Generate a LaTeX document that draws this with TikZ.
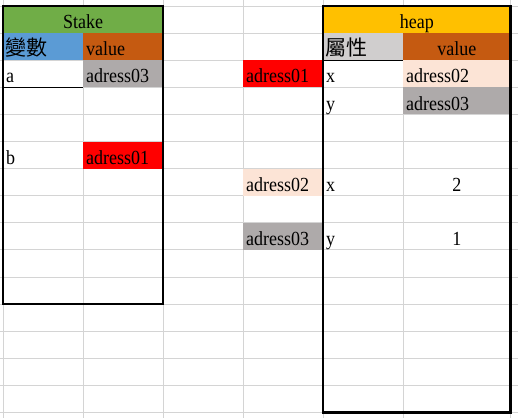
\documentclass[tikz,border=0pt]{standalone}
\usepackage{fontspec}
\setmainfont[FakeStretch=0.9]{Liberation Serif}
\newfontfamily\cjk{Noto Sans CJK TC}
\definecolor{gridgray}{HTML}{D4D4D4}
\definecolor{cgreen}{HTML}{70AD47}
\definecolor{cblue}{HTML}{5B9BD5}
\definecolor{corange}{HTML}{C55A11}
\definecolor{cgray}{HTML}{AEAAAA}
\definecolor{cred}{HTML}{FF0000}
\definecolor{cpeach}{HTML}{FCE4D6}
\definecolor{cgold}{HTML}{FFC000}
\definecolor{clgray}{HTML}{D0CECE}
\tikzset{
  gridline/.style={draw=gridgray, line width=0.9pt},
  txt/.style={anchor=base west, inner sep=0pt, font=\fontsize{20}{20}\selectfont},
  ctxt/.style={anchor=base, inner sep=0pt, font=\fontsize{20}{20}\selectfont},
  cjktxt/.style={anchor=base west, inner sep=0pt, font=\cjk\fontsize{21}{21}\selectfont},
  boxline/.style={draw=black, line width=2.2pt},
  thinline/.style={draw=black, line width=1pt}
}
\begin{document}
\begin{tikzpicture}[x=1pt,y=-1pt]
\useasboundingbox (0,0) rectangle (518,418);
\fill[white] (0,0) rectangle (518,418);
% grid
\foreach \gx in {3,83,163,243,323,403,510.5}
  \draw[gridline] (\gx,0) -- (\gx,418);
\foreach \k in {0,...,15}
  \draw[gridline] (0,6+27.1*\k) -- (518,6+27.1*\k);
% fills
\fill[cgreen] (3,6) rectangle (163,33.1);
\fill[cblue] (3,33.1) rectangle (83,60.2);
\fill[corange] (83,33.1) rectangle (163,60.2);
\fill[cgray] (83,60.2) rectangle (163,87.3);
\fill[cred] (83,141.5) rectangle (163,168.6);
\fill[cred] (243,60.2) rectangle (323,87.3);
\fill[cpeach] (243,168.6) rectangle (323,195.7);
\fill[cgray] (243,222.8) rectangle (323,249.9);
\fill[cgold] (323,6) rectangle (510.5,33.1);
\fill[clgray] (323,33.1) rectangle (403,60.2);
\fill[corange] (403,33.1) rectangle (510.5,60.2);
\fill[cpeach] (403,60.2) rectangle (510.5,87.3);
\fill[cgray] (403,87.3) rectangle (510.5,114.4);
% borders
\draw[thinline] (3,87.3) -- (83,87.3);
\draw[thinline] (323,60.2) -- (403,60.2);
\draw[boxline] (3,6) rectangle (163,304.1);
\draw[boxline] (323,6) rectangle (510.5,412.5);
% stake texts
\node[ctxt] (stake) at (83,28.5) {Stake};
\node[cjktxt] (var) at (5,55.7) {變數};
\node[txt] (sval) at (86,55.7) {value};
\node[txt] (na) at (6,82.8) {a};
\node[txt] (va) at (86,82.8) {adress03};
\node[txt] (nb) at (6,164) {b};
\node[txt] (vb) at (86,164) {adress01};
% middle
\node[txt] (m1) at (246,82.8) {adress01};
\node[txt] (m2) at (246,191.2) {adress02};
\node[txt] (m3) at (246,245.4) {adress03};
% heap
\node[ctxt] (heap) at (416.75,28.5) {heap};
\node[cjktxt] (attr) at (325,55.7) {屬性};
\node[ctxt] (hval) at (456.75,55.7) {value};
\node[txt] (hx1) at (326,82.8) {x};
\node[txt] (hv1) at (406,82.8) {adress02};
\node[txt] (hy1) at (326,110) {y};
\node[txt] (hv2) at (406,110) {adress03};
\node[txt] (hx2) at (326,191.2) {x};
\node[ctxt] (hv3) at (456.75,191.2) {2};
\node[txt] (hy2) at (326,245.4) {y};
\node[ctxt] (hv4) at (456.75,245.4) {1};
\end{tikzpicture}
\end{document}
